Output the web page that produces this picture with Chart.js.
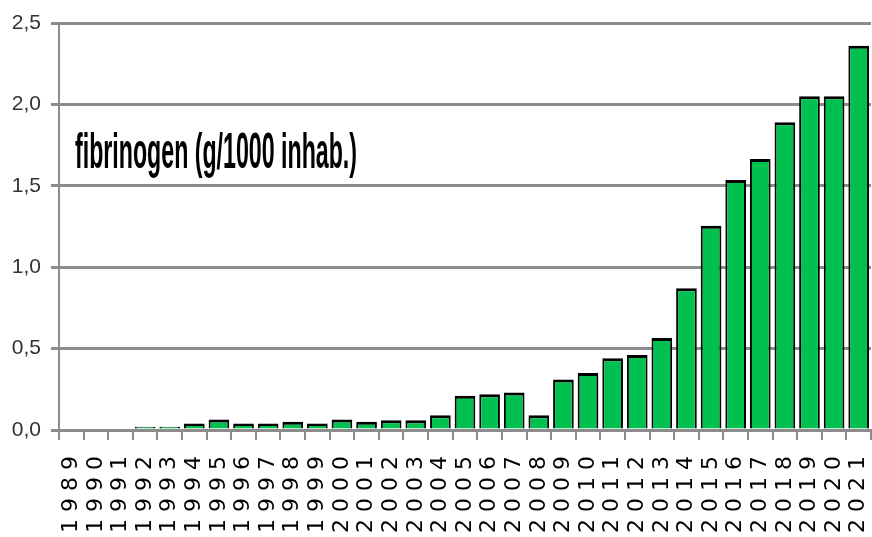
<!DOCTYPE html>
<html lang="en">
<head>
<meta charset="UTF-8">
<title>fibrinogen</title>
<script src="https://cdn.jsdelivr.net/npm/chart.js"></script>
<style>
  html, body { margin: 0; padding: 0; background: #fff; }
  #wrap { width: 872px; height: 537px; }
</style>
</head>
<body>
<div id="wrap">
  <canvas id="chart1" width="872" height="537"></canvas>
</div>
<script>
// years on the x axis
var years = ['1989','1990','1991','1992','1993','1994','1995','1996','1997','1998','1999',
             '2000','2001','2002','2003','2004','2005','2006','2007','2008','2009','2010',
             '2011','2012','2013','2014','2015','2016','2017','2018','2019','2020','2021'];

// g per 1000 inhabitants
var fibrinogen = [0, 0, 0, 0.02, 0.02, 0.04, 0.065, 0.04, 0.04, 0.05, 0.04,
                  0.065, 0.05, 0.06, 0.06, 0.09, 0.21, 0.22, 0.23, 0.09, 0.31, 0.35,
                  0.44, 0.46, 0.565, 0.87, 1.255, 1.535, 1.665, 1.89, 2.05, 2.05, 2.36];

var yTicks = [0, 0.5, 1.0, 1.5, 2.0, 2.5];
var titleText = 'fibrinogen (g/1000 inhab.)';

// text box inside the plot
var titlePlugin = {
    id: 'titleBox',
    afterDraw: function(chart) {
        var ctx = chart.ctx;
        ctx.save();
        ctx.font = 'bold 50px "Liberation Sans Narrow", "Liberation Sans", sans-serif';
        ctx.fillStyle = '#000';
        ctx.textBaseline = 'alphabetic';
        ctx.textAlign = 'left';
        ctx.fillText(titleText, 75, 168, 282);
        ctx.restore();
    }
};

var ctx = document.getElementById('chart1').getContext('2d');
var myChart = new Chart(ctx, {
    type: 'bar',
    data: {
        labels: years,
        datasets: [{
            data: fibrinogen,
            backgroundColor: '#00C050',
            borderColor: '#000',
            borderWidth: { top: 3, left: 2, right: 2, bottom: 0 },
            borderSkipped: 'start',
            barPercentage: 0.84,
            categoryPercentage: 1.0
        }]
    },
    options: {
        responsive: false,
        animation: false,
        layout: { padding: { top: 23, right: 1, left: 0, bottom: 0 } },
        plugins: {
            legend: { display: false },
            tooltip: { enabled: false },
            title: { display: false }
        },
        scales: {
            x: {
                offset: true,
                grid: {
                    offset: true,
                    drawOnChartArea: false,
                    color: '#8c8c8c',
                    lineWidth: 2,
                    tickLength: 10
                },
                border: { color: '#8c8c8c', width: 3 },
                ticks: {
                    autoSkip: false,
                    maxRotation: 90,
                    minRotation: 90,
                    padding: 16,
                    color: '#000',
                    font: { family: '"DejaVu Sans", Verdana, sans-serif', size: 22 },
                    callback: function(v, i) {
                        return years[i].split('').join(' ');
                    }
                },
                afterFit: function(scale) {
                    scale.height = 107;
                    scale.paddingLeft = 0;
                    scale.paddingRight = 0;
                }
            },
            y: {
                min: 0,
                max: 2.5,
                afterBuildTicks: function(scale) {
                    scale.ticks = yTicks.map(function(v) { return { value: v }; });
                },
                grid: {
                    color: '#8c8c8c',
                    lineWidth: 3,
                    tickLength: 8
                },
                border: { color: '#8c8c8c', width: 2 },
                ticks: {
                    padding: 10,
                    color: '#333',
                    font: { family: '"Liberation Sans Narrow", "Liberation Sans", sans-serif', size: 21 },
                    callback: function(v) { return v.toFixed(1).replace('.', ','); }
                },
                afterFit: function(scale) { scale.width = 59; }
            }
        }
    },
    plugins: [titlePlugin]
});
</script>
</body>
</html>
